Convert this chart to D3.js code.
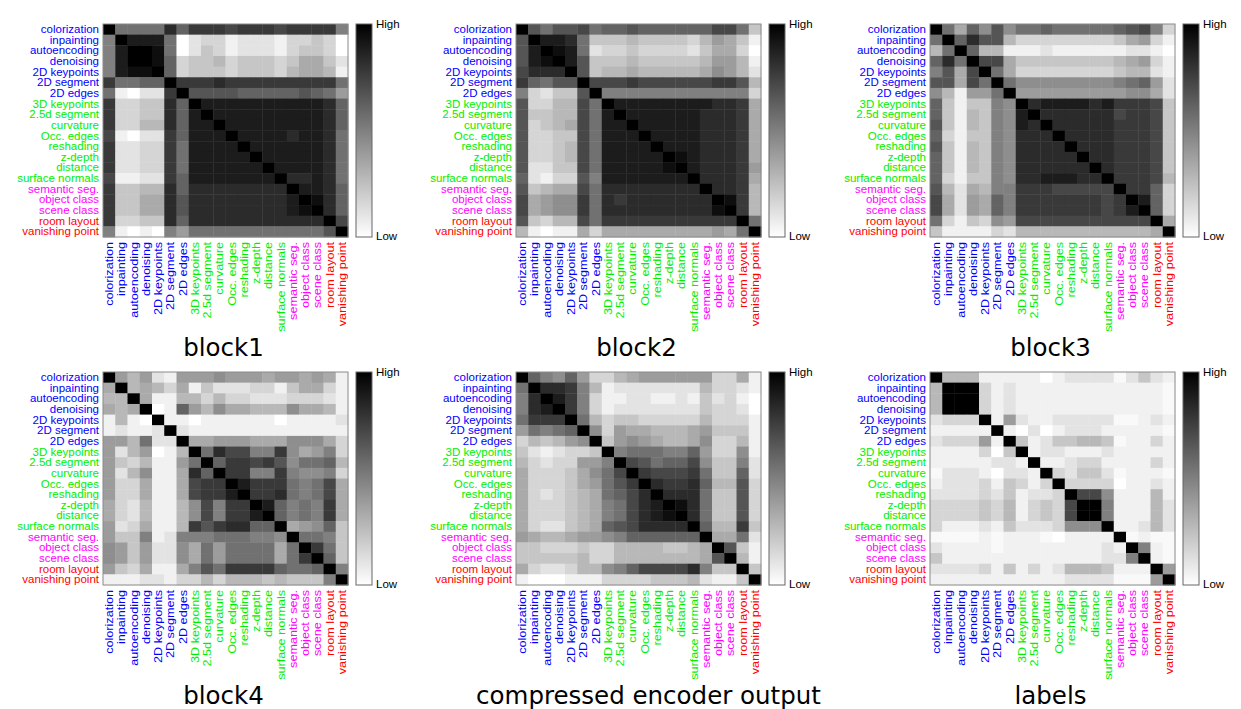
<!DOCTYPE html>
<html>
<head>
<meta charset="utf-8">
<script src="https://cdn.jsdelivr.net/npm/d3@7"></script>
<style>
  body { margin: 0; background: #fff; }
  .rowlab text, .collab text { font-family: "Liberation Sans", Arial, sans-serif; font-size: 11.5px; }
  .title { font-family: "DejaVu Sans", sans-serif; font-size: 24.5px; fill: #000; }
  .cbar text { font-family: "Liberation Sans", Arial, sans-serif; font-size: 11.5px; fill: #000; }
</style>
</head>
<body>
<svg width="1241" height="709"></svg>
<script>
// task names, in the order used for rows and columns
var tasks = ['colorization', 'inpainting', 'autoencoding', 'denoising', '2D keypoints', '2D segment', '2D edges',
    '3D keypoints', '2.5d segment', 'curvature', 'Occ. edges', 'reshading', 'z-depth', 'distance', 'surface normals',
    'semantic seg.', 'object class', 'scene class', 'room layout', 'vanishing point'];

// group of each task (2D / 3D / semantic / geometric)
var taskGroup = ['2d', '2d', '2d', '2d', '2d', '2d', '2d',
    '3d', '3d', '3d', '3d', '3d', '3d', '3d', '3d',
    'sem', 'sem', 'sem', 'geo', 'geo'];

var groupColor = { '2d': '#0000ff', '3d': '#00ee00', 'sem': '#ff00ff', 'geo': '#ff0000' };

// similarity, 0 = Low (white) ... 9 = High (black)
var block1 = [
    [9,5,5,5,5,7.5,5.5,7,7,7,6.5,7,7,7,6.5,7,7,7,7,4.5],
    [4.5,9,8,8,8,5,0,1,1.5,1.5,0.5,1,1,1,0.5,1.5,1.5,2,1.5,0],
    [4.5,8,9,9,8.5,5,0,1,2,1.5,0.5,1,1,1,0.5,1.5,2,2,1.5,0],
    [4.5,8,9,9,8.5,5.5,1.5,2,2,2.5,1.5,2,2,2,1.5,2,3,3,2,1],
    [4.5,8,8.5,8.5,9,5.5,1.5,2,2,2,1.5,2,2,2,1.5,2.5,3,3,2.5,0.5],
    [7,5,5,5.5,5.5,9,7,7,7,7.5,7,7,7,7,7,7,7,7,7,5],
    [5,0.5,0,1,1,7,9,6,6,6,6,5.5,5.5,5.5,5.5,5.5,6,5.5,5,3.5],
    [7,1.5,1.5,2,2,7.5,5.5,9,8,8,8,8,8,8,8,8,8,8,7.5,5.5],
    [7,1.5,1.5,2,2,7.5,5.5,8,9,8,8,8,8,8,8,8,8,8,7.5,5.5],
    [7,1.5,1.5,2.5,2.5,7.5,5.5,8,8,9,8,8,8,8,8,8,8,8,7.5,5.5],
    [6.5,0.5,0,1,1,7,5.5,8,8,8,9,8,8,8,8,7.5,8,8,7.5,5],
    [7,1,1,1.5,1.5,7,5,8,8,8,8,9,8,8,8,8,8,8,7.5,5],
    [7,1,1,1.5,1.5,7,5,8,8,8,8,8,9,8,8,8,8,8,7.5,5],
    [7,1,1,1.5,1.5,7,5,8,8,8,8,8,8,9,8,8,8,8,7.5,5],
    [6.5,0.5,0.5,1,1,7,5.5,8,8,8,8,8,8,8,9,7.5,7.5,8,7.5,5],
    [7,2,2,2.5,2.5,7.5,5.5,7.5,7.5,7.5,7.5,7.5,7.5,7.5,7.5,9,8,8,7.5,5.5],
    [7,2,2,3,3,7.5,6,7.5,7.5,7.5,7.5,7.5,7.5,7.5,7.5,8,9,8.5,7.5,5.5],
    [7,2,2,3,3,7.5,6,7.5,7.5,7.5,7.5,7.5,7.5,7.5,7.5,8,8.5,9,7.5,5.5],
    [7,1.5,1.5,2,2,7.5,5.5,7.5,7.5,7.5,7.5,7.5,7.5,7.5,7.5,7.5,7.5,7.5,9,6.5],
    [4.5,0.5,0,0.5,0,4.5,3.5,5,5,5,5,5,5,5,5,5,5,5,6,9]
];

var block2 = [
    [9,6,5,6,6,6.5,5,5.5,5.5,6,5.5,5.5,5.5,5.5,5.5,5.5,6.5,6.5,5,2],
    [6,9,8,8,7.5,5,2,2,2,2.5,2,2,2,2,1.5,2.5,3.5,3,2,0.5],
    [6,8,9,8.5,8,5,1,1.5,1.5,2,1.5,1.5,1.5,1.5,1,2,3,3,1.5,0],
    [6,8,8.5,9,8,6,2,2,2,2.5,2,2,2,2,2,2.5,3.5,3.5,2.5,0.5],
    [6.5,7.5,7.5,7.5,9,6,2,2.5,2.5,3,2.5,2.5,2.5,2.5,2.5,3,4,3.5,2.5,1],
    [7,5.5,5,6,6,9,6.5,6.5,6.5,7,6.5,6.5,6.5,6.5,6.5,6.5,7,7,6,2.5],
    [4.5,1.5,1,2,2,6,9,4.5,4.5,4.5,4.5,4.5,4.5,4.5,4.5,4.5,4.5,4.5,4.5,1.5],
    [6,1.5,1.5,2.5,2.5,6.5,5,9,8,8,8,8,8,8,8,8,7.5,7.5,7,3],
    [6,2,2,2.5,2.5,6.5,5,8,9,8,8,8,8,8,8,7.5,7.5,7.5,7,3],
    [6,1.5,2,2.5,3,6.5,5,8,8,9,8,8,8,8,8,7.5,7.5,7.5,7,3],
    [6,1.5,1.5,2,2,6.5,5,8,8,8,9,8,8,8,8,7.5,7.5,7.5,7,3],
    [6,1.5,1.5,2,2.5,6.5,5,8,8,8,8,9,8,8,8,7.5,7.5,7.5,7,3],
    [6,1.5,1.5,2,2.5,6.5,5,8,8,8,8,8,9,8.5,8,7.5,7.5,7.5,7,3],
    [6,1,1,2,2,6.5,5,8,8,8,8,8,8.5,9,8,7.5,7.5,7.5,7,3.5],
    [5.5,1,0.5,1.5,1.5,6,4.5,8,8,8,8,8,8,8,9,7.5,7.5,7.5,7,3],
    [6,2,2.5,3,3,6.5,5,7.5,7.5,7.5,7.5,7.5,7.5,7.5,7.5,9,7.5,7.5,7,2.5],
    [6.5,3,3.5,4,4,7,5,7.5,7,7.5,7.5,7.5,7.5,7.5,7.5,7.5,9,8.5,7,2.5],
    [6.5,3,3.5,4,4,7,5,7.5,7.5,7.5,7.5,7.5,7.5,7.5,7.5,7.5,8.5,9,7,2.5],
    [6,2,1.5,2.5,2.5,6.5,5,7,7,7,7,7,7,7,7,7,7,7,9,5],
    [2.5,0.5,0,0.5,0.5,3,1.5,3,3,3,3,3,3,3,3,3,3.5,3,5,9]
];

var block3 = [
    [9,5,3,5.5,4,6,4,5,5,5.5,5,5,5,5,5,5.5,6,6.5,4.5,1.5],
    [5,9,5.5,7.5,6,6,2.5,1.5,1.5,1.5,1.5,1.5,1.5,1.5,1.5,2,3,3.5,1.5,0.5],
    [2.5,5,9,5.5,2.5,2.5,0.5,0.5,0.5,1,0.5,0.5,0.5,0.5,0.5,0.5,1,1,0.5,0],
    [5.5,7.5,5,9,6.5,6.5,3,2,2,2,2,2,2,2,2,2.5,3,3.5,1.5,0.5],
    [4.5,6,3,6.5,9,5,3,1.5,1.5,1.5,1.5,1.5,1.5,1.5,1.5,2,2.5,2.5,1,0.5],
    [6,6,3,6.5,5,9,5,4,4,4,4,4,4,4,4,4.5,5,5.5,3.5,1],
    [4,2.5,0.5,3.5,3.5,5,9,3.5,3.5,3.5,3.5,3.5,3.5,3.5,3.5,3.5,4,4,3,1],
    [5.5,2,0.5,2,2,4.5,4,9,7.5,8,8,8,8,7.5,8,7,7,7,6.5,2],
    [5.5,2,0.5,2.5,2,4.5,4,8,9,7.5,7.5,7.5,7.5,7.5,7.5,6.5,7,7,6.5,2],
    [6,2,0.5,2.5,2,4.5,4,8,7.5,9,7.5,7.5,7.5,7.5,7.5,7,7,7,6.5,2],
    [5.5,1.5,0.5,2,2,4.5,4,7.5,7.5,7.5,9,7.5,7.5,7.5,7.5,7,7,7,6.5,2],
    [6,2,0.5,2.5,2,4.5,4,7.5,7.5,7.5,7.5,9,7.5,7.5,7.5,7,7,7,6.5,2],
    [5.5,2,0.5,2.5,2,4.5,4,7.5,7.5,7.5,7.5,7.5,9,7.5,7.5,7,7,7,6.5,2],
    [5.5,2,0.5,2.5,2,4.5,4,7.5,7.5,7.5,7.5,7.5,7.5,9,7.5,7,7,7,6.5,2],
    [5.5,1.5,0.5,2,2,4.5,4,7.5,7.5,8,8,8,7.5,7.5,9,7,7,7,6.5,2.5],
    [6,2.5,1,3,2.5,4.5,4.5,7,7,7,6.5,6.5,6.5,6.5,6.5,9,7,7,5.5,1.5],
    [6.5,3,1,3.5,3,5.5,4.5,7,7,7,7,7,7,7,6.5,7,9,8,5.5,1.5],
    [6.5,3,1,3.5,3,5.5,4.5,7,7,7,7,7,7,7,6.5,7,8,9,5.5,1.5],
    [5,1.5,0.5,2,1.5,4,3.5,6.5,6.5,6.5,6.5,6.5,6.5,6.5,6.5,6.5,6.5,6.5,9,3],
    [2,0.5,0.5,0.5,0.5,1.5,1,2.5,2.5,2.5,2.5,2.5,2.5,2.5,2.5,2.5,2.5,2.5,3,9]
];

var block4 = [
    [9,3.5,2.5,3.5,1,0.5,3.5,3.5,3.5,4,3.5,3.5,3.5,3,3.5,3.5,3,3.5,3,0.5],
    [3,9,2.5,3,2.5,1.5,3,0.5,2,1,1,1,1.5,1.5,0.5,2,3,3,1.5,0.5],
    [2.5,2.5,9,3,0.5,0.5,2.5,2.5,1.5,2.5,1.5,1.5,1,1,1,1.5,1.5,1.5,1,0.5],
    [3,2.5,3,9,0,0.5,5.5,3.5,2.5,4,3,3,2.5,2.5,2.5,4,3,3,2.5,0.5],
    [0.5,2.5,0.5,0,9,0.5,0.5,0,0.5,0.5,0.5,0.5,0.5,0.5,0,0.5,0.5,0.5,0.5,1],
    [0.5,1,0.5,0.5,1,9,1,0.5,0.5,0.5,0.5,0.5,0.5,0.5,0.5,0.5,0.5,0.5,0.5,0.5],
    [3.5,3.5,2.5,5,1,1,9,3,3,3.5,3.5,3.5,3,3,3,4,4,4,3,1.5],
    [3.5,1,2.5,3.5,0,0.5,2.5,9,5,7.5,6.5,6.5,4.5,4.5,7,4,3,3.5,4.5,1.5],
    [3.5,2,1.5,2.5,0.5,0.5,3.5,5,9,5.5,7,7,6.5,7,6,4,5,5,5.5,2.5],
    [3.5,1,2.5,4,0.5,0.5,3,7.5,5.5,9,7,7,4.5,4.5,7,4.5,4,4,4.5,1.5],
    [3.5,1.5,1.5,3,0.5,0.5,3,6.5,7,7,9,8,7,7,7,5,4.5,5,6.5,3],
    [3.5,1.5,1.5,3,0.5,0.5,3,6.5,7,7,8,9,7,7,7.5,5,4.5,5,6.5,3],
    [3,1.5,1,2.5,0.5,0.5,2.5,4,6.5,4.5,7,7,9,8,5.5,4.5,5,4.5,7,3],
    [3,1.5,1,2.5,0.5,0.5,2.5,4,6.5,4.5,7,7,8,9,5.5,4.5,5,4.5,7,3],
    [3.5,1,1.5,3,0.5,0.5,2.5,7,6,7,7.5,7.5,5.5,5.5,9,3,3.5,4,5.5,2],
    [3.5,2,2,4.5,0.5,1,4.5,4.5,4.5,5,5,5,4.5,4.5,4,9,5,5,4.5,2],
    [4,3.5,2,3.5,1,1,4,3,5,3.5,5,5,5,5,3,5,9,7,5,2],
    [4,3.5,2,3.5,1,1,4,3,5,3.5,5,5,5,5,3,5,7,9,5.5,2],
    [3.5,2,1.5,3,0.5,0.5,3,4.5,6,5,7,7,7,7,5.5,5,5,5.5,9,4.5],
    [0.5,0.5,0.5,1,1,0.5,1.5,1.5,2.5,1.5,2.5,2.5,2.5,2,2.5,2,2,2,4.5,9]
];

var encoderOut = [
    [9,5.5,4.5,4,5.5,3.5,1.5,1.5,2.5,3,3.5,3.5,3.5,3.5,3.5,3.5,1.5,1.5,3,0.5],
    [5,9,7.5,7.5,7,4.5,2.5,0.5,1,1,1,1,1,1,1,2.5,1.5,1.5,1,0.5],
    [4.5,7.5,9,8,7,4.5,1.5,0.5,0.5,1,1,0.5,0.5,1,0.5,2,1,1.5,0.5,0],
    [4.5,7.5,8,9,7,4.5,1.5,0.5,1,1,1,1,1,1,1,2,1.5,1.5,1,0],
    [5,7,7,7,9,5,2.5,1.5,2,2,1.5,1.5,1.5,1.5,1.5,2.5,1.5,1.5,1.5,0.5],
    [3.5,5,4.5,5,5.5,9,4,1.5,3.5,3,3,2.5,2.5,2.5,3,3.5,2,2,2,0.5],
    [1.5,2.5,2,2.5,3.5,4,9,2,3.5,4,3.5,3,2.5,2.5,3,4,1.5,1.5,2.5,0.5],
    [2,1,0.5,1,1.5,1.5,2,9,4.5,5,5,5,4.5,4.5,5.5,3.5,1.5,1.5,4,0.5],
    [2.5,1.5,1,1.5,1.5,3.5,3.5,4.5,9,6.5,6,5,5.5,5.5,6.5,4,2,2,4.5,1],
    [3,1.5,1.5,1.5,2,3,4,5,6.5,9,7,6.5,6.5,6.5,7,5,2,2,5.5,1],
    [3,1.5,1.5,1.5,2,3,3.5,5,6,7,9,7.5,7,7,7.5,5.5,2.5,2.5,6,1.5],
    [3,1.5,1,1.5,2,2.5,3,5,5.5,6.5,7.5,9,7.5,7.5,7.5,5,2,2,6,1.5],
    [3,1.5,1.5,1.5,2,2.5,3,4.5,5,6.5,7.5,8,9,8.5,7.5,5,2,2,6,1.5],
    [3,1.5,1.5,1.5,2,2.5,3,4.5,5,6.5,7.5,8,8.5,9,7.5,5,2,2,6,1.5],
    [3,1.5,1,1,2,2.5,3,5.5,6,6.5,7.5,7.5,7.5,7.5,9,5.5,2.5,2.5,7,2],
    [3.5,3,2.5,2.5,3,3.5,3.5,4,4.5,5.5,5.5,5.5,5.5,5.5,5.5,9,3,3,5,1],
    [2,2,1.5,1.5,1.5,2,1.5,1.5,2.5,2.5,2.5,2.5,2,2,2.5,3,9,6,2,0.5],
    [2,2,2,2,2,2.5,1.5,1.5,2.5,2.5,2.5,2.5,2.5,2.5,2.5,3,6,9,2.5,0.5],
    [3,1.5,1,1,1.5,2.5,2.5,4,4.5,5.5,6.5,6.5,6.5,6.5,7.5,4.5,2,2,9,2],
    [0.5,0,0,0,0.5,0.5,0.5,1.5,1.5,1.5,1.5,2,2,2,2.5,1,0.5,0.5,2,9]
];

var labelSim = [
    [9,2.5,2.5,2.5,0.5,0.5,0.5,0.5,0.5,0,0.5,1,1,1,1,0.2,1,2,1,0.5],
    [2.5,9,9,9,1.5,0.5,1,0.5,0.5,0.5,0.5,0.5,0.5,0.5,0.5,0.5,0.5,0.5,0.5,0.2],
    [2.5,9,9,9,1.5,0.5,1,0.5,0.5,0.5,0.5,0.5,0.5,0.5,0.5,0.5,0.5,0.5,0.5,0.2],
    [2.5,9,9,9,1.5,0.5,1,0.5,0.5,0.5,0.5,0.5,0.5,0.5,0.5,0.5,0.5,0.5,0.5,0.2],
    [1,1.5,1.5,1.5,9,0.5,3.5,1,0.5,0.5,1,1,1,1,1,0.2,0.2,0.5,1,0.5],
    [0.5,0.5,0.5,0.5,0.5,9,0.5,0,1,0,0.5,1,1,1,0.5,0.5,0.5,0.5,0.5,0.2],
    [1,1.5,1.5,1.5,3.5,0.5,9,2,0.5,1,2,2,2.5,2.5,2,0.2,0.5,0.5,1.5,0.5],
    [0.5,0.5,0.5,0.5,1.5,0,2,9,0.5,1,1,0.5,0.5,0.5,1,0.5,0.5,0.5,0.5,0.5],
    [0.5,0.5,0.5,0.5,0.5,1,1,0.5,9,0.5,0.5,1,1.5,1.5,0.5,0.5,0.5,0.5,1.5,0.5],
    [0.2,1,1,1,0.5,0,1,1,0.5,9,1.5,1,2,2,1,0.2,0.5,0.5,0.5,0.2],
    [0.5,1,1,1,1.5,0.5,2,1.5,0.5,1.5,9,1.5,1.5,1.5,1.5,0,0.5,0.5,1,0.5],
    [1,1,1,1,1.5,1,2,0.5,1,1,1.5,9,6.5,6.5,4,0.5,0.5,0.5,2.5,0.5],
    [1.5,1.5,1.5,1.5,2,1.5,2.5,0.5,1.5,2,1.5,6.5,9,9,4.5,0.5,0.5,0.5,2.5,1],
    [1.5,1.5,1.5,1.5,2,1.5,2.5,0.5,1.5,2,1.5,6.5,9,9,4.5,0.5,0.5,0.5,2.5,1],
    [1.5,0.5,0.5,0.5,1,0.5,2,1,1,1,1.5,4,4,4,9,0.5,0.5,1,2.5,1],
    [0.2,0.2,0.2,0.2,0.5,0.2,0.5,0.5,0.5,0.2,0,0.5,0.5,0.5,0.5,9,0.2,0.5,0.2,0.2],
    [1,0.5,0.5,0.5,0.5,0.2,0.5,0.5,0.5,0.5,0.5,0.5,0.5,0.5,1,0.5,9,4.5,0.5,0.2],
    [2,0.5,0.5,0.5,0.5,0.5,0.5,0.5,0.5,0.5,0.5,0.5,0.5,0.5,1,1,4.5,9,0.5,0.2],
    [1,1,1,1,1.5,0.5,2,0.5,1.5,0.5,1,2.5,2.5,2.5,2,0.5,0.5,0.5,9,3.5],
    [0.5,0.5,0.5,0.5,0.5,0.5,0.5,0.5,0.5,0.5,0.5,1,1,1,1,0.2,0.2,0.2,3.5,9]
];

var panelTitles = ['block1', 'block2', 'block3', 'block4', 'compressed encoder output', 'labels'];
var panelData = [block1, block2, block3, block4, encoderOut, labelSim];

// Setting defaults
var matW = 245,
    matH = 213,
    colX = [103, 516, 930],
    rowY = [24, 372],
    cbarGap = 8,
    cbarW = 16,
    titleDx = [0, 0, 0, 0, 12, 0];

var svg = d3.select('svg');

var xScale = d3.scaleBand().domain(tasks).range([0, matW]);
var yScale = d3.scaleBand().domain(tasks).range([0, matH]);
var colorScale = d3.scaleLinear().domain([0, 9]).range(['#ffffff', '#000000']);

function taskColor(t) {
    return groupColor[taskGroup[tasks.indexOf(t)]];
}

// gradient for the colour bars, stops taken from the colour scale
var grad = svg.append('defs').append('linearGradient')
    .attr('id', 'cbarGrad')
    .attr('x1', 0).attr('y1', 0).attr('x2', 0).attr('y2', 1);
grad.selectAll('stop')
    .data([9, 0])
    .enter().append('stop')
    .attr('offset', function(d, i) { return i; })
    .attr('stop-color', function(d) { return colorScale(d); });

panelData.forEach(function(matrix, p) {
    var ox = colX[p % 3],
        oy = rowY[Math.floor(p / 3)];
    var g = svg.append('g').attr('transform', 'translate(' + ox + ',' + oy + ')');

    var cells = [];
    matrix.forEach(function(row, i) {
        row.forEach(function(v, j) {
            cells.push({ r: tasks[i], c: tasks[j], v: v });
        });
    });

    g.append('g')
        .selectAll('rect')
        .data(cells)
        .enter().append('rect')
        .attr('x', function(d) { return xScale(d.c); })
        .attr('y', function(d) { return yScale(d.r); })
        .attr('width', xScale.bandwidth() + 0.4)
        .attr('height', yScale.bandwidth() + 0.4)
        .attr('fill', function(d) { return colorScale(d.v); });

    g.append('rect')
        .attr('width', matW).attr('height', matH)
        .attr('fill', 'none').attr('stroke', '#8a8a8a').attr('stroke-width', 1);

    // row labels
    var ya = g.append('g').attr('class', 'rowlab')
        .call(d3.axisLeft(yScale).tickSize(0).tickPadding(4));
    ya.select('.domain').remove();
    ya.selectAll('text').attr('fill', taskColor);

    // column labels, rotated (a bit stretched along the text, like the original)
    var xa = g.append('g').attr('class', 'collab')
        .attr('transform', 'translate(0,' + matH + ')')
        .call(d3.axisBottom(xScale).tickSize(0));
    xa.select('.domain').remove();
    xa.selectAll('text')
        .attr('fill', taskColor)
        .attr('transform', 'rotate(-90) scale(1.1,1)')
        .attr('x', -4.5).attr('y', 0).attr('dy', '0.35em')
        .style('text-anchor', 'end');

    // colour bar
    var cb = g.append('g').attr('class', 'cbar')
        .attr('transform', 'translate(' + (matW + cbarGap) + ',0)');
    cb.append('rect')
        .attr('width', cbarW).attr('height', matH)
        .attr('fill', 'url(#cbarGrad)')
        .attr('stroke', '#666').attr('stroke-width', 1);
    cb.append('text').attr('x', cbarW + 4).attr('y', 4).text('High');
    cb.append('text').attr('x', cbarW + 4).attr('y', matH + 3).text('Low');

    svg.append('text')
        .attr('class', 'title')
        .attr('x', ox + matW / 2 - 2 + titleDx[p])
        .attr('y', oy + 332)
        .attr('text-anchor', 'middle')
        .text(panelTitles[p]);
});
</script>
</body>
</html>
